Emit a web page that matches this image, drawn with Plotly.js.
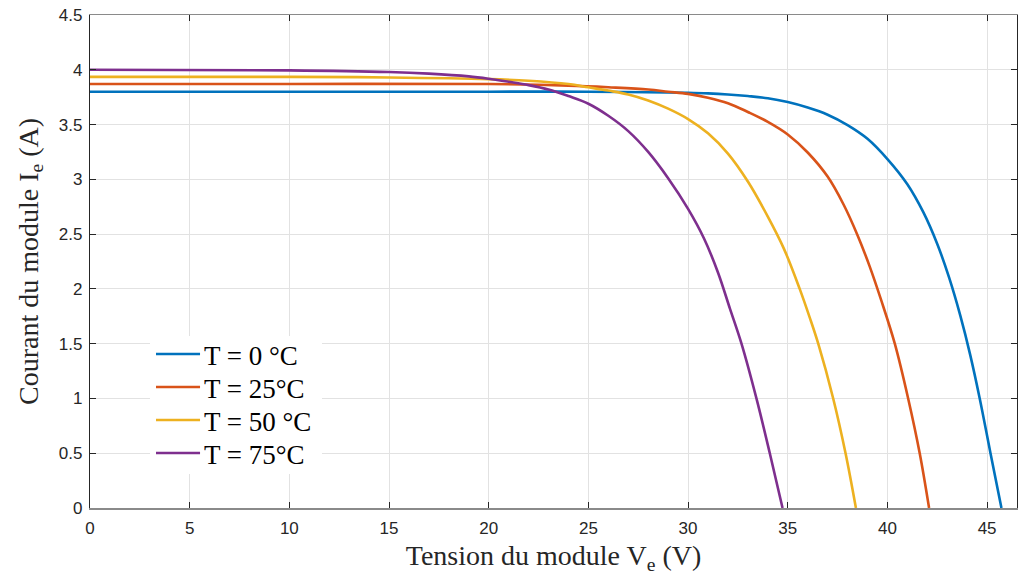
<!DOCTYPE html>
<html>
<head>
<meta charset="utf-8">
<script src="https://cdn.plot.ly/plotly-3.0.1.min.js"></script>
<style>html,body{margin:0;padding:0;background:#fff;}#chart{width:1018px;height:580px;}</style>
</head>
<body>
<div id="chart"></div>
<script>
// Series labels
const seriesNames = ["T = 0 °C", "T = 25°C", "T = 50 °C", "T = 75°C"];

// T = 0 °C
const v0 = [0, 10, 20, 25, 30, 31, 32, 33, 34, 35, 36, 37, 38, 39, 40, 41, 41.8, 42.5, 43.1, 43.65, 44.15, 44.63, 45.17, 45.72];
const i0 = [3.80, 3.80, 3.80, 3.80, 3.79, 3.785, 3.775, 3.76, 3.74, 3.705, 3.655, 3.59, 3.495, 3.37, 3.185, 2.955, 2.70, 2.41, 2.10, 1.76, 1.40, 1.0, 0.5, 0];

// T = 25 °C
const v25 = [0, 10, 20, 24, 26, 28, 29, 30, 31, 32, 33, 34, 35, 36, 37, 37.8, 38.5, 39.1, 39.7, 40.37, 41.04, 41.62, 42.09];
const i25 = [3.87, 3.87, 3.87, 3.855, 3.84, 3.82, 3.80, 3.78, 3.745, 3.695, 3.615, 3.525, 3.41, 3.245, 3.025, 2.77, 2.49, 2.21, 1.89, 1.5, 1.0, 0.5, 0];

// T = 50 °C
const v50 = [0, 10, 15, 20, 22, 24, 25, 26, 27, 28, 29, 30, 31, 32, 33, 34, 34.8, 35.6, 36.1, 36.53, 37.28, 37.9, 38.42];
const i50 = [3.935, 3.935, 3.93, 3.915, 3.90, 3.87, 3.84, 3.81, 3.775, 3.72, 3.645, 3.55, 3.42, 3.235, 2.98, 2.66, 2.37, 2.0, 1.74, 1.5, 1.0, 0.5, 0];

// T = 75 °C
const v75 = [0, 10, 15, 17, 19, 20, 21, 22, 23, 24, 25, 26, 27, 28, 29, 30, 30.8, 31.5, 32.1, 32.68, 33.43, 34.1, 34.74];
const i75 = [4.0, 3.995, 3.98, 3.965, 3.94, 3.918, 3.89, 3.86, 3.82, 3.76, 3.69, 3.58, 3.44, 3.25, 3.01, 2.73, 2.46, 2.15, 1.82, 1.5, 1.0, 0.5, 0];

// Axis ticks
const xTicks = [0, 5, 10, 15, 20, 25, 30, 35, 40, 45];
const yTicks = [0, 0.5, 1, 1.5, 2, 2.5, 3, 3.5, 4, 4.5];

const colors = ["#0072BD", "#D95319", "#EDB120", "#7E2F8E"];
const xs = [v0, v25, v50, v75];
const ys = [i0, i25, i50, i75];

const traces = xs.map((x, k) => ({
  x: x, y: ys[k], type: "scatter", mode: "lines", name: seriesNames[k],
  showlegend: false,
  line: {color: colors[k], width: 2.6, shape: "spline", smoothing: 1.0}
}));

// Custom legend (MATLAB-like compact rows)
const legRowY = [0.3124, 0.2455, 0.1785, 0.1116];
const shapes = [{
  type: "rect", xref: "paper", yref: "paper",
  x0: 0.0647, x1: 0.2503, y0: 0.069, y1: 0.349,
  fillcolor: "#fff", line: {width: 0}, layer: "above"
}];
const annotations = [];
seriesNames.forEach((nm, k) => {
  shapes.push({
    type: "line", xref: "paper", yref: "paper",
    x0: 0.0712, x1: 0.1187, y0: legRowY[k], y1: legRowY[k],
    line: {color: colors[k], width: 2.6}, layer: "above"
  });
  annotations.push({
    xref: "paper", yref: "paper", x: 0.1205, y: legRowY[k] - 0.004,
    xanchor: "left", yanchor: "middle", showarrow: false, text: nm,
    font: {family: "Liberation Serif, Times New Roman, serif", size: 27, color: "#000"}
  });
});

const axisCommon = {
  showgrid: true, gridcolor: "#e2e2e2", gridwidth: 1,
  zeroline: false, ticks: "inside", ticklen: 6, tickcolor: "#262626",
  mirror: "ticks", showline: true,
  tickfont: {family: "Liberation Sans, Arial, sans-serif", size: 17, color: "#262626"}
};

const layout = {
  width: 1018, height: 580,
  margin: {l: 90, r: 1, t: 15, b: 72},
  paper_bgcolor: "#fff", plot_bgcolor: "#fff",
  showlegend: false,
  shapes: shapes,
  annotations: annotations,
  xaxis: Object.assign({}, axisCommon, {
    range: [0, 46.5], tickvals: xTicks, ticktext: xTicks.map(String),
    linecolor: "#8a8a8a", linewidth: 1.5, ticklabelstandoff: 4,
    title: {text: "Tension du module V<sub>e</sub> (V)", standoff: 8,
      font: {family: "Liberation Serif, Times New Roman, serif", size: 28, color: "#262626"}}
  }),
  yaxis: Object.assign({}, axisCommon, {
    range: [0, 4.5], tickvals: yTicks, ticktext: yTicks.map(String),
    linecolor: "#262626", linewidth: 1.2, ticklabelstandoff: 3,
    title: {text: "Courant du module I<sub>e</sub> (A)", standoff: 12,
      font: {family: "Liberation Serif, Times New Roman, serif", size: 28, color: "#262626"}}
  })
};

Plotly.newPlot("chart", traces, layout, {displayModeBar: false, staticPlot: true});
</script>
</body>
</html>
